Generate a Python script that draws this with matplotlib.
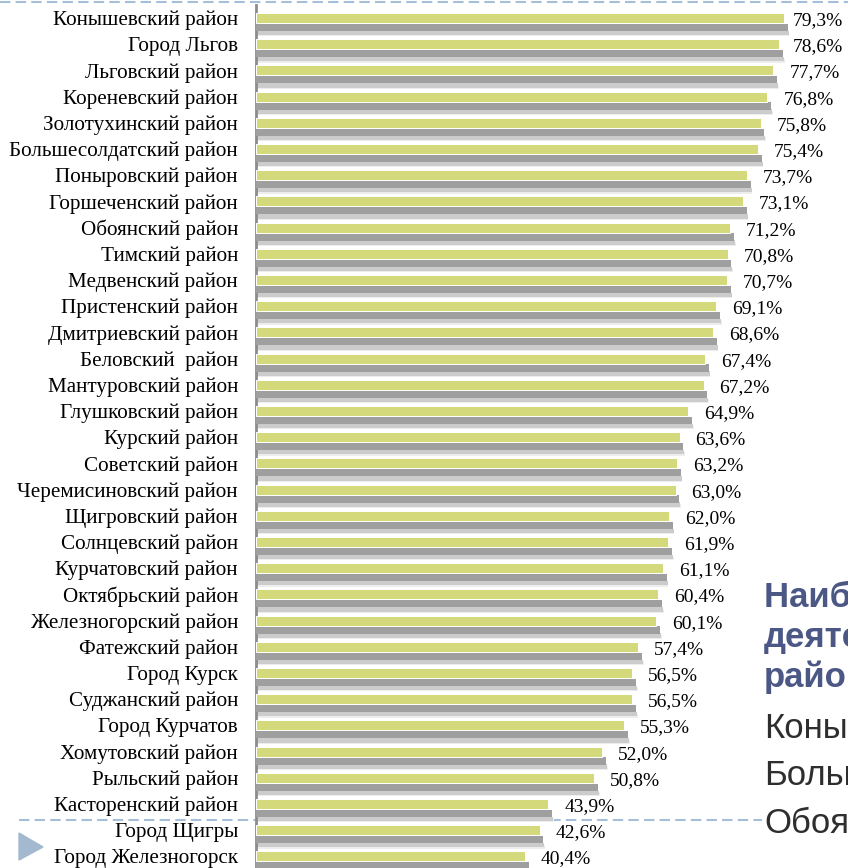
import matplotlib
matplotlib.use("Agg")
import matplotlib.pyplot as plt
from matplotlib.lines import Line2D
from matplotlib.patches import Polygon

districts = [
    "Конышевский район", "Город Льгов", "Льговский район", "Кореневский район",
    "Золотухинский район", "Большесолдатский район", "Поныровский район",
    "Горшеченский район", "Обоянский район", "Тимский район", "Медвенский район",
    "Пристенский район", "Дмитриевский район", "Беловский  район",
    "Мантуровский район", "Глушковский район", "Курский район", "Советский район",
    "Черемисиновский район", "Щигровский район", "Солнцевский район",
    "Курчатовский район", "Октябрьский район", "Железногорский район",
    "Фатежский район", "Город Курск", "Суджанский район", "Город Курчатов",
    "Хомутовский район", "Рыльский район", "Касторенский район", "Город Щигры",
    "Город Железногорск",
]
values = [79.3, 78.6, 77.7, 76.8, 75.8, 75.4, 73.7, 73.1, 71.2, 70.8, 70.7,
          69.1, 68.6, 67.4, 67.2, 64.9, 63.6, 63.2, 63.0, 62.0, 61.9, 61.1,
          60.4, 60.1, 57.4, 56.5, 56.5, 55.3, 52.0, 50.8, 43.9, 42.6, 40.4]

title_lines = ["Наибольшая доля", "деятельности", "районы:"]
top_lines = ["Конышевский", "Большесолдатский", "Обоянский"]

W, H = 848, 868
fig = plt.figure(figsize=(W / 100, H / 100), dpi=100)


def fx(px):
    return px / W


def fy(py):
    return 1 - py / H


# axes: value 0 at x=256px, 6.66 px per percent
ax = fig.add_axes([fx(256), 0, 1 - fx(256), 1 - 5 / H])
ax.set_xlim(0, (W - 256) / 6.66)
pitch = 26.2
ax.set_ylim((868 - 18) / pitch, -(18 - 5) / pitch)

pos = list(range(len(values)))

# shadows (3d-ish look)
ax.barh([p + 0.63 for p in pos], [v + 0.8 for v in values], height=0.14,
        color="#ededed", zorder=1)
ax.barh([p + 0.57 for p in pos], [v + 0.7 for v in values], height=0.17,
        color="#cccccc", zorder=2)
ax.barh([p + 0.36 for p in pos], [v + 0.55 for v in values], height=0.27,
        color="#9f9f9f", zorder=3)
# front bars
ax.barh(pos, values, height=0.38, color="#d4da7b", edgecolor="white",
        linewidth=0.7, zorder=4)

# value labels, kept inside the picture near the right edge
x_max = (793 - 256) / 6.66
for p, v in zip(pos, values):
    ax.text(min(v + 2.4, x_max), p + 0.1, f"{v:.1f}%".replace(".", ","),
            va="center", ha="left", fontsize=14, family="Liberation Serif",
            color="black")

ax.set_yticks(pos)
ax.set_yticklabels(districts, fontsize=15.2, family="Liberation Serif")
ax.tick_params(axis="y", length=0, pad=13)
ax.set_xticks([])
for s in ["top", "right", "bottom"]:
    ax.spines[s].set_visible(False)
ax.spines["left"].set_color("#8c8c8c")
ax.spines["left"].set_linewidth(2)
ax.patch.set_alpha(0)

# dashed separators
fig.add_artist(Line2D([0, 1], [fy(2), fy(2)], color="#a6bfd8", lw=1.5,
                      linestyle=(0, (5, 2.5)), zorder=0))
fig.add_artist(Line2D([fx(19), fx(762)], [fy(820), fy(820)], color="#a6bfd8",
                      lw=1.5, linestyle=(0, (5, 2.5)), zorder=0))

# triangle marker
fig.add_artist(Polygon([[fx(19), fy(833)], [fx(19), fy(860)], [fx(43), fy(847)]],
                       closed=True, color="#a3b9cf", transform=fig.transFigure))

# right side note (clipped by the figure edge)
for i, t in enumerate(title_lines):
    fig.text(fx(764), fy(607 + 40 * i), t, fontsize=25, fontweight="bold",
             family="Liberation Sans", color="#4b5784", va="baseline")
for i, t in enumerate(top_lines):
    fig.text(fx(764), fy(738 + 47.5 * i), t, fontsize=25,
             family="Liberation Sans", color="#2e2e2e", va="baseline")

fig.savefig("out.png", dpi=100)
